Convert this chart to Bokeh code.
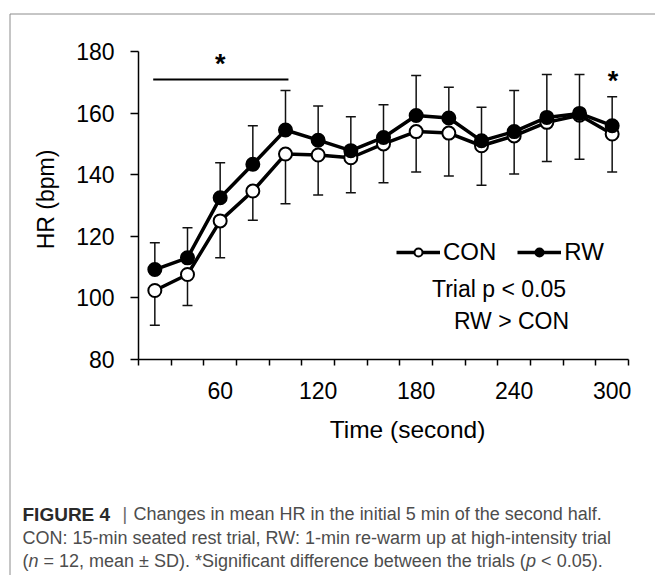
import math
from bokeh.plotting import figure
from bokeh.models import (Range1d, FixedTicker, Whisker, TeeHead, Legend, LegendItem,
                          Label, LinearAxis, ColumnDataSource)
from bokeh.embed import file_html
from bokeh.resources import INLINE

# ---------------- data ----------------
time_s = [20, 40, 60, 80, 100, 120, 140, 160, 180, 200, 220, 240, 260, 280, 300]
con_mean = [102.4, 107.6, 125.0, 134.7, 146.7, 146.4, 145.5, 150.0, 154.0, 153.5, 149.4, 152.6, 157.0, 159.3, 153.2]
con_sd = [11.3, 10.1, 12.0, 9.5, 16.1, 13.0, 11.4, 12.6, 13.1, 13.9, 12.8, 12.4, 12.7, 14.3, 12.3]
rw_mean = [109.2, 113.0, 132.5, 143.4, 154.5, 151.2, 147.8, 152.1, 159.2, 158.4, 151.0, 154.0, 158.6, 159.9, 155.9]
rw_sd = [8.7, 9.8, 11.4, 12.5, 12.8, 11.1, 11.0, 10.6, 13.0, 10.0, 10.9, 13.3, 13.9, 12.6, 9.4]
x_tick_labels = [60, 120, 180, 240, 300]
y_ticks = [80, 100, 120, 140, 160, 180]
sig_span_x = [19.0, 101.8]      # significance bar over the first 100 s
sig_span_y = 170.9

# ---------------- layout (pixel geometry) ----------------
W, H = 655, 575
FONT = "Liberation Sans"
AX_X0_PX, AX_X1_PX = 138, 628        # x axis extent on canvas
AX_YTOP_PX, AX_YBOT_PX = 51, 359     # y axis extent on canvas
x_lo, x_hi = time_s[0] - 10, time_s[-1] + 10
y_lo, y_hi = y_ticks[0], y_ticks[-1]
SX = (AX_X1_PX - AX_X0_PX) / (x_hi - x_lo)
SY = (AX_YBOT_PX - AX_YTOP_PX) / (y_hi - y_lo)


def dx(px):
    return x_lo + (px - AX_X0_PX) / SX


def dy(py):
    return y_hi - (py - AX_YTOP_PX) / SY


p = figure(width=W, height=H, output_backend="svg", toolbar_location=None,
           x_range=Range1d(dx(0), dx(W)), y_range=Range1d(dy(H), dy(0)),
           x_axis_location=None, y_axis_location=None,
           min_border=0, min_border_left=0, min_border_right=0,
           min_border_top=0, min_border_bottom=0)
p.outline_line_color = None
p.grid.visible = False
p.background_fill_color = "white"
p.border_fill_color = "white"

# axes (fixed at the data origin, bounded to the data area)
xa = LinearAxis(fixed_location=y_lo, bounds=(x_lo, x_hi),
                ticker=FixedTicker(ticks=x_tick_labels,
                                   minor_ticks=[t - 10 for t in time_s] + [time_s[-1] + 10]))
xa.major_tick_out = 0
xa.major_tick_in = 0
xa.minor_tick_out = 6
xa.minor_tick_in = 0
xa.minor_tick_line_color = "black"
xa.minor_tick_line_width = 1.5
xa.axis_line_width = 1.5
xa.axis_line_color = "black"
xa.major_label_text_font = FONT
xa.major_label_text_font_size = "23px"
xa.major_label_text_color = "black"
xa.major_label_standoff = 16
p.add_layout(xa, "below")

ya = LinearAxis(fixed_location=x_lo, bounds=(y_lo, y_hi),
                ticker=FixedTicker(ticks=y_ticks, minor_ticks=[]))
ya.major_tick_out = 8
ya.major_tick_in = 0
ya.major_tick_line_width = 1.5
ya.major_tick_line_color = "black"
ya.axis_line_width = 1.5
ya.axis_line_color = "black"
ya.major_label_text_font = FONT
ya.major_label_text_font_size = "23px"
ya.major_label_text_color = "black"
ya.major_label_standoff = 16
p.add_layout(ya, "left")

# axis titles
p.add_layout(Label(x=dx(45), y=dy(199), text="HR (bpm)", angle=math.pi / 2,
                   text_align="center", text_baseline="middle", text_font=FONT,
                   text_font_size="23px", text_color="black"))
p.add_layout(Label(x=dx(407), y=dy(428.5), text="Time (second)", text_align="center",
                   text_baseline="middle", text_font=FONT, text_font_size="24.5px",
                   text_color="black"))

# error bars
con_src = ColumnDataSource(dict(x=time_s, m=con_mean,
                                lo=[m - s for m, s in zip(con_mean, con_sd)]))
rw_src = ColumnDataSource(dict(x=time_s, m=rw_mean,
                               hi=[m + s for m, s in zip(rw_mean, rw_sd)]))
p.add_layout(Whisker(base="x", lower="lo", upper="m", source=con_src, dimension="height",
                     line_color="#111", line_width=1.5, upper_head=None,
                     lower_head=TeeHead(size=10, line_color="#111", line_width=1.5),
                     level="underlay"))
p.add_layout(Whisker(base="x", lower="m", upper="hi", source=rw_src, dimension="height",
                     line_color="#111", line_width=1.5, lower_head=None,
                     upper_head=TeeHead(size=10, line_color="#111", line_width=1.5),
                     level="underlay"))

# series
con_line = p.line("x", "m", source=con_src, line_color="black", line_width=3.5)
con_pts = p.scatter("x", "m", source=con_src, marker="circle", size=13,
                    fill_color="white", line_color="black", line_width=2)
rw_line = p.line("x", "m", source=rw_src, line_color="black", line_width=3.5)
rw_pts = p.scatter("x", "m", source=rw_src, marker="circle", size=13,
                   fill_color="black", line_color="black", line_width=2)

# significance marks
p.line(sig_span_x, [sig_span_y, sig_span_y], line_color="black", line_width=2)
for sx, spy in [(60, 63.5), (300.5, 80.5)]:
    p.add_layout(Label(x=sx, y=dy(spy), text="*", text_align="center", text_baseline="middle",
                       text_font=FONT, text_font_size="27px", text_font_style="bold",
                       text_color="black"))

# legend
legend = Legend(items=[LegendItem(label="CON", renderers=[con_line, con_pts]),
                       LegendItem(label="RW", renderers=[rw_line, rw_pts])],
                orientation="horizontal", location=(396, H - 265.5),
                glyph_width=44, glyph_height=20, label_standoff=3, spacing=21,
                padding=0, margin=0, border_line_color=None, background_fill_alpha=0,
                label_text_font=FONT, label_text_font_size="24px", label_text_color="black")
p.add_layout(legend)

p.add_layout(Label(x=dx(498.5), y=dy(288), text="Trial p < 0.05", text_align="center",
                   text_baseline="middle", text_font=FONT, text_font_size="23px",
                   text_color="black"))
p.add_layout(Label(x=dx(511), y=dy(320), text="RW > CON", text_align="center",
                   text_baseline="middle", text_font=FONT, text_font_size="23px",
                   text_color="black"))

# outer panel border (left + top edges visible in the crop)
p.line([dx(9.5), dx(9.5), dx(W)], [dy(H), dy(13.5), dy(13.5)],
       line_color="#8c8c8c", line_width=1)

# caption
AW = {' ': 278, '(': 333, ')': 333, '*': 389, ',': 278, '.': 278, '<': 584, '=': 584,
      '\u00b1': 549, 'S': 667, 'D': 722, 'a': 556, 'b': 556, 'c': 500, 'd': 556,
      'e': 556, 'f': 278, 'g': 556, 'h': 556, 'i': 222, 'l': 222, 'm': 833, 'n': 556,
      'p': 556, 'r': 333, 's': 500, 't': 278, 'w': 722, '0': 556, '1': 556, '2': 556,
      '5': 556}
CAP = 18


def tw(s):
    return sum(AW[c] for c in s) * CAP / 1000


def cap_label(px, py, text, style="normal", color="#4d4d4d", size=CAP):
    p.add_layout(Label(x=dx(px), y=dy(py), text=text, text_font=FONT,
                       text_font_size=f"{size}px", text_font_style=style,
                       text_color=color, text_baseline="alphabetic", text_align="left"))


cap_label(22, 513.5, "FIGURE 4", "bold", "#2a2a2a", 19)
cap_label(122, 513.5, "|", "normal", "#666666")
cap_label(133, 513.5, "Changes in mean HR in the initial 5 min of the second half.")
cap_label(22, 537, "CON: 15-min seated rest trial, RW: 1-min re-warm up at high-intensity trial")
# third line: pieces keep their spaces at the end, so none starts with a blank
pieces = [("(", "normal"), ("n ", "italic"),
          ("= 12, mean \u00b1 SD). *Significant difference between the trials (", "normal"),
          ("p ", "italic"), ("< 0.05).", "normal")]
cx = 22
for txt, st in pieces:
    cap_label(cx, 560, txt.rstrip(), st)
    cx += tw(txt)

open("out.html", "w").write(file_html(p, INLINE))
